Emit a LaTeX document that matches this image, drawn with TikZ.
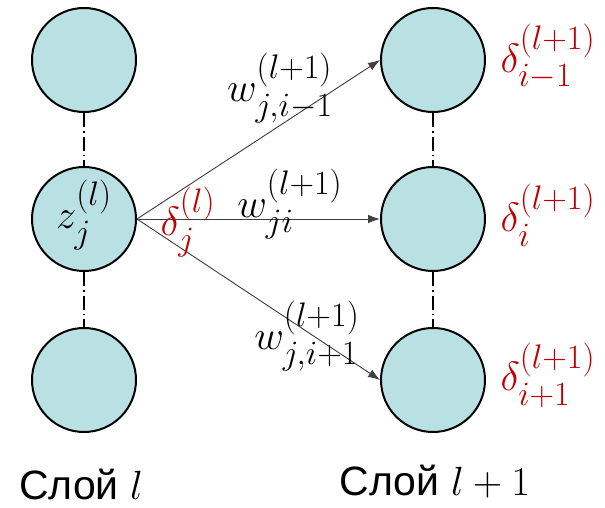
\documentclass[tikz,border=0pt]{standalone}
\usepackage[no-math]{fontspec}
\setmainfont{Liberation Sans}
\usepackage{amsmath}
\usepackage{xcolor}
\usetikzlibrary{arrows.meta}
\definecolor{cellblue}{HTML}{B9E0E3}
\definecolor{errred}{HTML}{C00000}
\tikzset{
  neuron/.style={circle,draw=black,fill=cellblue,line width=1.7pt,minimum size=3.12cm,inner sep=0pt},
  syn/.style={draw=black!75,line width=0.8pt,-{Latex[length=0.36cm,width=0.26cm]}},
  link/.style={line width=1.3pt,dash pattern=on 0.42cm off 0.12cm on 0.05cm off 0.12cm},
  lbl/.style={font=\Huge,scale=1.4,inner sep=0pt},
  err/.style={lbl,text=errred},
  layername/.style={font=\fontsize{35}{40}\selectfont,inner sep=0pt}
}
\newcommand{\wt}[1]{w^{(l+1)}_{#1}}
\newcommand{\dl}[2]{\delta^{(#1)}_{#2}}
\begin{document}
\begin{tikzpicture}
\useasboundingbox (0,0) rectangle (18.15,15.24);
\node[neuron] (a1) at (2.52,13.44) {};
\node[neuron] (a2) at (2.52,8.67) {};
\node[neuron] (a3) at (2.52,3.84) {};
\node[neuron] (b1) at (12.99,13.44) {};
\node[neuron] (b2) at (12.99,8.67) {};
\node[neuron] (b3) at (12.99,3.84) {};
\node[lbl] (z) at (2.52,8.79) {$z^{(l)}_{j}$};
\draw[link] (a1.south) -- (a2.north); \draw[link] (a2.south) -- (a3.north);
\draw[link] (b1.south) -- (b2.north); \draw[link] (b2.south) -- (b3.north);
\draw[syn] (a2.east) -- (b1.west);
\draw[syn] (a2.east) -- (b2.west);
\draw[syn] (a2.east) -- (b3.west);
\node[err] (dj) at (5.64,8.58) {$\dl{l}{j}$};
\node[lbl] (w1) at (8.4,12.6) {$\wt{j,i-1}$};
\node[lbl] (w2) at (8.7,9.12) {$\wt{ji}$};
\node[lbl] (w3) at (9.21,5.16) {$\wt{j,i+1}$};
\node[err] (d1) at (16.44,13.53) {$\dl{l+1}{i-1}$};
\node[err] (d2) at (16.44,8.79) {$\dl{l+1}{i}$};
\node[err] (d3) at (16.44,3.99) {$\dl{l+1}{i+1}$};
\node[layername] (c1) at (2.43,0.72) {Слой {\Huge\scalebox{1.4}{$l$}}};
\node[layername] (c2) at (13.05,0.78) {Слой {\Huge\scalebox{1.4}{$l+1$}}};
\end{tikzpicture}
\end{document}
